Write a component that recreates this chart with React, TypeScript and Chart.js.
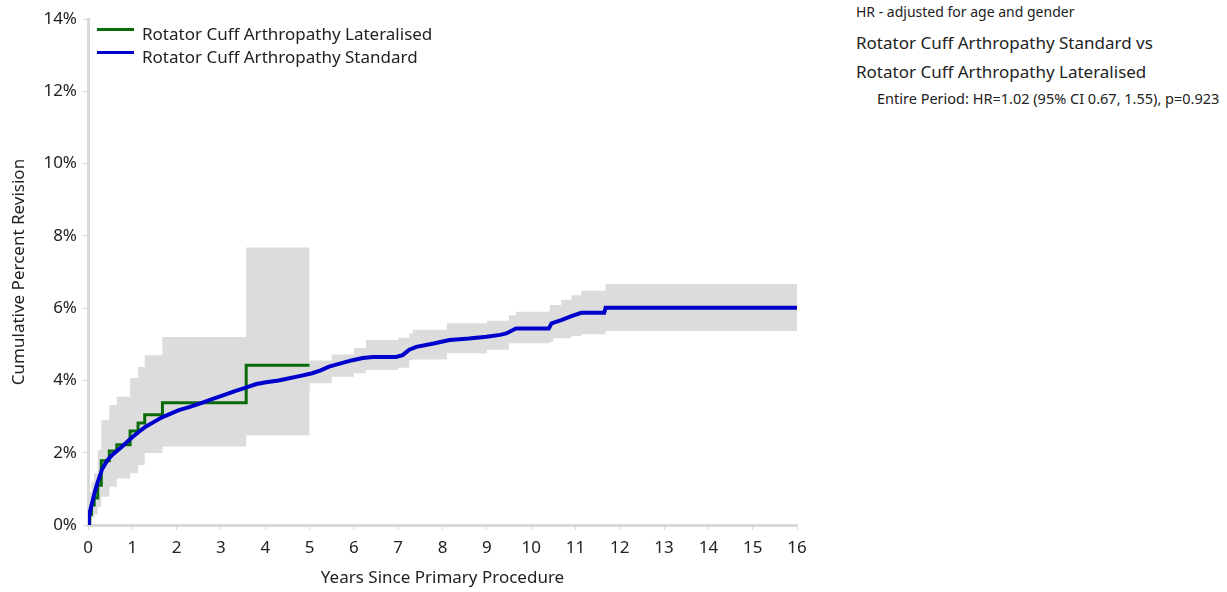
import React, { useEffect, useRef } from "react";
import { Chart, registerables } from "chart.js";

Chart.register(...registerables);

// Rotator Cuff Arthropathy Lateralised (KM step estimate, % revision)
const latYears = [0, 0.04, 0.08, 0.14, 0.22, 0.3, 0.48, 0.65, 0.95, 1.13, 1.28, 1.68, 3.57, 5.0];
const latValues = [0, 0.3, 0.55, 0.75, 1.1, 1.78, 2.05, 2.22, 2.6, 2.82, 3.05, 3.38, 4.42, 4.42];
const latLower = [0, 0.1, 0.2, 0.3, 0.5, 0.78, 1.06, 1.29, 1.43, 1.66, 1.99, 2.17, 2.48, 2.48];
const latUpper = [0, 0.9, 1.2, 1.43, 2.07, 2.9, 3.32, 3.55, 4.07, 4.37, 4.7, 5.2, 7.68, 7.68];

// Rotator Cuff Arthropathy Standard
const stdYears = [0, 0.02, 0.05, 0.1, 0.15, 0.21, 0.32, 0.43, 0.54, 0.77, 0.99, 1.15, 1.3, 1.5, 1.67, 2.05, 2.3, 2.57, 2.8, 3.03, 3.3, 3.56, 3.8, 4.02, 4.3, 4.54, 4.77, 5.06, 5.25, 5.44, 5.7, 5.97, 6.2, 6.43, 6.95, 7.1, 7.25, 7.41, 7.8, 8.16, 8.6, 8.99, 9.3, 9.44, 9.6, 9.66, 10.4, 10.46, 10.68, 10.91, 11.13, 11.65, 11.68, 16];
const stdValues = [0, 0.2, 0.4, 0.65, 0.9, 1.15, 1.55, 1.78, 1.93, 2.17, 2.42, 2.58, 2.72, 2.86, 2.98, 3.18, 3.27, 3.38, 3.48, 3.58, 3.7, 3.8, 3.9, 3.95, 4.0, 4.06, 4.12, 4.2, 4.28, 4.38, 4.47, 4.56, 4.62, 4.65, 4.65, 4.7, 4.85, 4.93, 5.02, 5.12, 5.16, 5.21, 5.26, 5.3, 5.4, 5.44, 5.44, 5.58, 5.67, 5.78, 5.87, 5.87, 6.01, 6.01];

const stdCiYears = [0, 0.05, 0.1, 0.2, 0.3, 0.5, 0.8, 1.0, 1.5, 2.0, 3.0, 4.0, 5.0, 5.5, 6.0, 6.27, 7.0, 7.25, 7.33, 8.1, 9.0, 9.5, 9.66, 10.42, 10.5, 10.68, 10.91, 11.13, 11.68, 16];
const stdLower = [0, 0.3, 0.5, 0.9, 1.25, 1.65, 1.9, 2.1, 2.5, 2.8, 3.2, 3.6, 3.92, 4.1, 4.2, 4.29, 4.35, 4.56, 4.58, 4.75, 4.85, 5.03, 5.03, 5.07, 5.17, 5.17, 5.23, 5.28, 5.37, 5.37];
const stdUpper = [0, 0.55, 0.85, 1.4, 1.8, 2.2, 2.5, 2.75, 3.2, 3.55, 3.95, 4.35, 4.55, 4.72, 4.9, 5.12, 5.18, 5.3, 5.4, 5.58, 5.65, 5.8, 5.9, 6.09, 6.09, 6.23, 6.36, 6.48, 6.67, 6.67];

const xTicks = [0, 16, 1];
const yTicks = [0, 14, 2];

const legendLabels = ["Rotator Cuff Arthropathy Lateralised", "Rotator Cuff Arthropathy Standard"];
const infoLines = [
  "HR - adjusted for age and gender",
  "Rotator Cuff Arthropathy Standard vs",
  "Rotator Cuff Arthropathy Lateralised",
  "Entire Period: HR=1.02 (95% CI 0.67, 1.55), p=0.923",
];

const GREEN = "#0a6b0a";
const BLUE = "#0000cc";
const BAND = "#dcdcdc";
const AXIS = "#d9d9d9";
const FONT = "'Noto Sans', 'Open Sans', sans-serif";

const pts = (xs: number[], ys: number[]) => xs.map((x, i) => ({ x, y: ys[i] }));

export default function App() {
  const ref = useRef<HTMLCanvasElement | null>(null);

  useEffect(() => {
    if (!ref.current) return;
    const font = { family: FONT, size: 17 };
    const chart = new Chart(ref.current, {
      type: "line",
      data: {
        datasets: [
          {
            label: legendLabels[1],
            data: pts(stdYears, stdValues),
            borderColor: BLUE,
            borderWidth: 4,
            pointRadius: 0,
            fill: false,
            tension: 0,
          },
          {
            label: legendLabels[0],
            data: pts(latYears, latValues),
            borderColor: GREEN,
            borderWidth: 3,
            pointRadius: 0,
            fill: false,
            stepped: true,
          },
          {
            label: "lat upper",
            data: pts(latYears, latUpper),
            borderWidth: 0,
            borderColor: "rgba(0,0,0,0)",
            backgroundColor: BAND,
            pointRadius: 0,
            stepped: true,
            fill: "+1",
          },
          {
            label: "lat lower",
            data: pts(latYears, latLower),
            borderWidth: 0,
            borderColor: "rgba(0,0,0,0)",
            pointRadius: 0,
            stepped: true,
            fill: false,
          },
          {
            label: "std upper",
            data: pts(stdCiYears, stdUpper),
            borderWidth: 0,
            borderColor: "rgba(0,0,0,0)",
            backgroundColor: BAND,
            pointRadius: 0,
            stepped: true,
            fill: "+1",
          },
          {
            label: "std lower",
            data: pts(stdCiYears, stdLower),
            borderWidth: 0,
            borderColor: "rgba(0,0,0,0)",
            pointRadius: 0,
            stepped: true,
            fill: false,
          },
        ],
      },
      options: {
        animation: false,
        responsive: false,
        maintainAspectRatio: false,
        layout: { padding: { top: 19, right: 23, left: 0, bottom: 0 } },
        plugins: {
          legend: { display: false },
          tooltip: { enabled: false },
          filler: { drawTime: "beforeDatasetsDraw" },
        },
        scales: {
          x: {
            type: "linear",
            min: xTicks[0],
            max: xTicks[1],
            ticks: { stepSize: xTicks[2], color: "#222", font, padding: 8, maxRotation: 0 },
            grid: { drawOnChartArea: false, drawTicks: true, tickLength: 5, color: AXIS, lineWidth: 1 },
            border: { display: true, color: AXIS, width: 3 },
            title: { display: true, text: "Years Since Primary Procedure", color: "#222", font, padding: { top: 0, bottom: 4 } },
            afterFit: (s: any) => { s.height = 67; },
          },
          y: {
            type: "linear",
            min: yTicks[0],
            max: yTicks[1],
            ticks: { stepSize: yTicks[2], color: "#222", font, padding: 6, callback: (v: any) => v + "%" },
            grid: { drawOnChartArea: false, drawTicks: true, tickLength: 5, color: AXIS, lineWidth: 1 },
            border: { display: true, color: AXIS, width: 3 },
            title: { display: true, text: "Cumulative Percent Revision", color: "#222", font, padding: { top: 9, bottom: 0 } },
            afterFit: (s: any) => { s.width = 88; },
          },
        },
      },
    } as any);
    return () => chart.destroy();
  }, []);

  const textStyle: React.CSSProperties = { position: "absolute", fontFamily: FONT, color: "#222", whiteSpace: "nowrap", lineHeight: 1 };

  return (
    <div style={{ position: "fixed", left: 0, top: 0, width: 1227, height: 592, background: "#fff" }}>
      <canvas ref={ref} width={820} height={592} style={{ position: "absolute", left: 0, top: 0, width: 820, height: 592 }} />
      <div style={{ position: "absolute", left: 97, top: 28, width: 37, height: 3, background: GREEN }} />
      <div style={{ position: "absolute", left: 97, top: 51, width: 37, height: 3, background: BLUE }} />
      <div style={{ ...textStyle, left: 142, top: 25, fontSize: 17 }}>{legendLabels[0]}</div>
      <div style={{ ...textStyle, left: 142, top: 48, fontSize: 17 }}>{legendLabels[1]}</div>
      <div style={{ ...textStyle, left: 856, top: 5, fontSize: 14 }}>{infoLines[0]}</div>
      <div style={{ ...textStyle, left: 856, top: 34, fontSize: 17 }}>{infoLines[1]}</div>
      <div style={{ ...textStyle, left: 856, top: 63, fontSize: 17 }}>{infoLines[2]}</div>
      <div style={{ ...textStyle, left: 877, top: 91, fontSize: 14.5 }}>{infoLines[3]}</div>
    </div>
  );
}
